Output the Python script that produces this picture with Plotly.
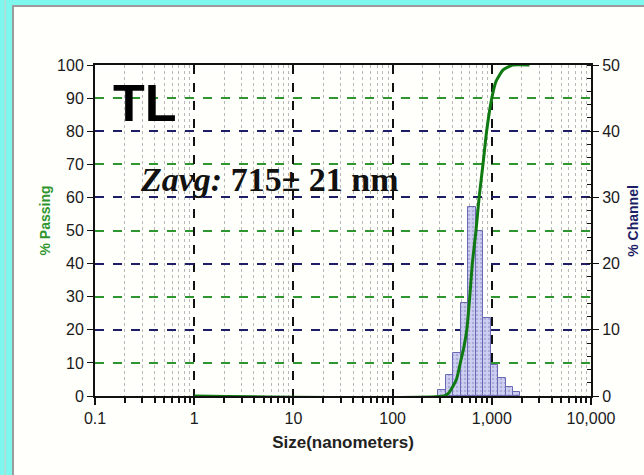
import numpy as np
import plotly.graph_objects as go

# ---- data ----
channel_edges_nm = [289.1, 343.8, 408.8, 486.1, 578.1, 687.5, 817.5, 972.2, 1156, 1375, 1635, 1944]
channel_pct = [0.9, 3.2, 6.5, 14.0, 28.5, 25.0, 11.8, 4.7, 2.7, 1.4, 0.6]

passing_size_nm = [1, 330, 370, 440, 486, 525, 560, 600, 636, 693, 745, 815, 887, 1000, 1100, 1300, 1620, 2400]
passing_pct = [0, 0, 1.0, 5.0, 10.5, 15.0, 20.0, 30.0, 40.0, 50.0, 60.0, 70.0, 80.0, 90.0, 95.0, 98.5, 100.0, 100.0]

x_tick_sizes = [0.1, 1, 10, 100, 1000, 10000]
x_tick_labels = ["0.1", "1", "10", "100", "1,000", "10,000"]
passing_ticks = list(range(0, 101, 10))
passing_grid = [10, 30, 50, 70, 90]
channel_ticks = list(range(0, 51, 10))

# ---- derived (log10 positions) ----
le = np.log10(channel_edges_nm)
bar_x = (le[:-1] + le[1:]) / 2
bar_w = le[1:] - le[:-1]
minor_vals = [np.log10(k * 10.0 ** d) for d in range(-1, 4) for k in range(2, 10)]

GREEN = "#2f962f"
NAVY = "#1e1e66"
FONT = "Liberation Sans Narrow, Arial Narrow, Liberation Sans, Arial, sans-serif"

fig = go.Figure()
fig.add_trace(go.Bar(
    x=bar_x, y=channel_pct, width=bar_w, yaxis="y",
    marker=dict(color="#c6c6ec", line=dict(color="#6a6ab4", width=1),
                pattern=dict(shape=".", fgcolor="#8c8cc8", bgcolor="#cfcff1", size=4, solidity=0.35)),
    showlegend=False, hoverinfo="skip"))
fig.add_trace(go.Scatter(
    x=np.log10(passing_size_nm), y=passing_pct, yaxis="y2", mode="lines",
    line=dict(color="#0f7a12", width=3, shape="spline", smoothing=0.5),
    showlegend=False, hoverinfo="skip"))

fig.update_layout(
    width=644, height=475,
    margin=dict(l=95, r=53, t=65, b=79, autoexpand=False),
    paper_bgcolor="#7ef8ef",
    plot_bgcolor="#ffffff",
    font=dict(family=FONT, size=16, color="#1a1a1a"),
    bargap=0,
    xaxis=dict(
        range=[-1, 4], tickmode="array",
        tickvals=list(np.log10(x_tick_sizes)), ticktext=x_tick_labels,
        showline=True, linecolor="#111", linewidth=2, mirror=True,
        ticks="outside", ticklen=7, tickcolor="#111", tickwidth=1.5,
        showgrid=True, gridcolor="#111", griddash="dash", gridwidth=1.5,
        zeroline=False, automargin=False,
        minor=dict(tickmode="array", tickvals=minor_vals, ticks="outside", ticklen=5,
                   tickcolor="#111", showgrid=True, gridcolor="#b8b8b8", griddash="dot", gridwidth=1),
        title=dict(text="<b>Size(nanometers)</b>", font=dict(family=FONT, size=17, color="#222"), standoff=10),
    ),
    yaxis=dict(
        range=[0, 50], tickmode="array", tickvals=channel_ticks, side="right",
        showline=True, linecolor="#111", linewidth=2,
        ticks="outside", ticklen=6, tickcolor="#111",
        showgrid=True, gridcolor=NAVY, griddash="dash", gridwidth=2, zeroline=False,
        automargin=False,
        minor=dict(dtick=2, ticks="inside", ticklen=4, tickcolor="#111", showgrid=False),
    ),
    yaxis2=dict(
        range=[0, 100], tickmode="array", tickvals=passing_ticks, side="left", overlaying="y",
        showline=True, linecolor="#111", linewidth=2,
        ticks="outside", ticklen=6, tickcolor="#111",
        showgrid=False, zeroline=False, automargin=False,
        minor=dict(tickmode="array", tickvals=passing_grid, ticks="", showgrid=True,
                   gridcolor=GREEN, griddash="dash", gridwidth=1.5),
    ),
    yaxis3=dict(
        range=[0, 100], side="left", overlaying="y", tickmode="array", tickvals=passing_ticks,
        showticklabels=False, ticks="inside", ticklen=6, tickcolor="#111",
        showline=False, showgrid=False, zeroline=False, automargin=False,
        minor=dict(dtick=2, ticks="inside", ticklen=4, tickcolor="#111", showgrid=False),
    ),
    shapes=[
        dict(type="rect", xref="paper", yref="paper", x0=-0.1653, x1=1.2, y0=-0.3, y1=1.178,
             fillcolor="#fffffb", line=dict(color="#9c9c9c", width=2), layer="below"),
        dict(type="line", xref="paper", yref="paper", x0=-0.181, x1=-0.181, y0=-0.3, y1=1.2,
             line=dict(color="#b8d8d0", width=1.5), layer="below"),
    ],
    annotations=[
        dict(text="<b>TL</b>", xref="paper", yref="paper", x=0.1, y=0.885,
             xanchor="center", yanchor="middle",
             showarrow=False, font=dict(family="Liberation Sans, Arial, sans-serif", size=52, color="#000")),
        dict(text="<b><i>Zavg:</i> 715± 21 nm</b>", xref="paper", yref="paper", x=0.352, y=0.655,
             xanchor="center", yanchor="middle",
             showarrow=False, font=dict(family="Liberation Serif, Times New Roman, serif", size=34, color="#111")),
        dict(text="<b>% Passing</b>", xref="paper", yref="paper", x=-0.101, y=0.53,
             xanchor="center", yanchor="middle", textangle=-90,
             showarrow=False, font=dict(family=FONT, size=14, color=GREEN)),
        dict(text="<b>% Channel</b>", xref="paper", yref="paper", x=1.083, y=0.53,
             xanchor="center", yanchor="middle", textangle=-90,
             showarrow=False, font=dict(family=FONT, size=14, color=NAVY)),
    ],
)

fig.write_html("out.html")
